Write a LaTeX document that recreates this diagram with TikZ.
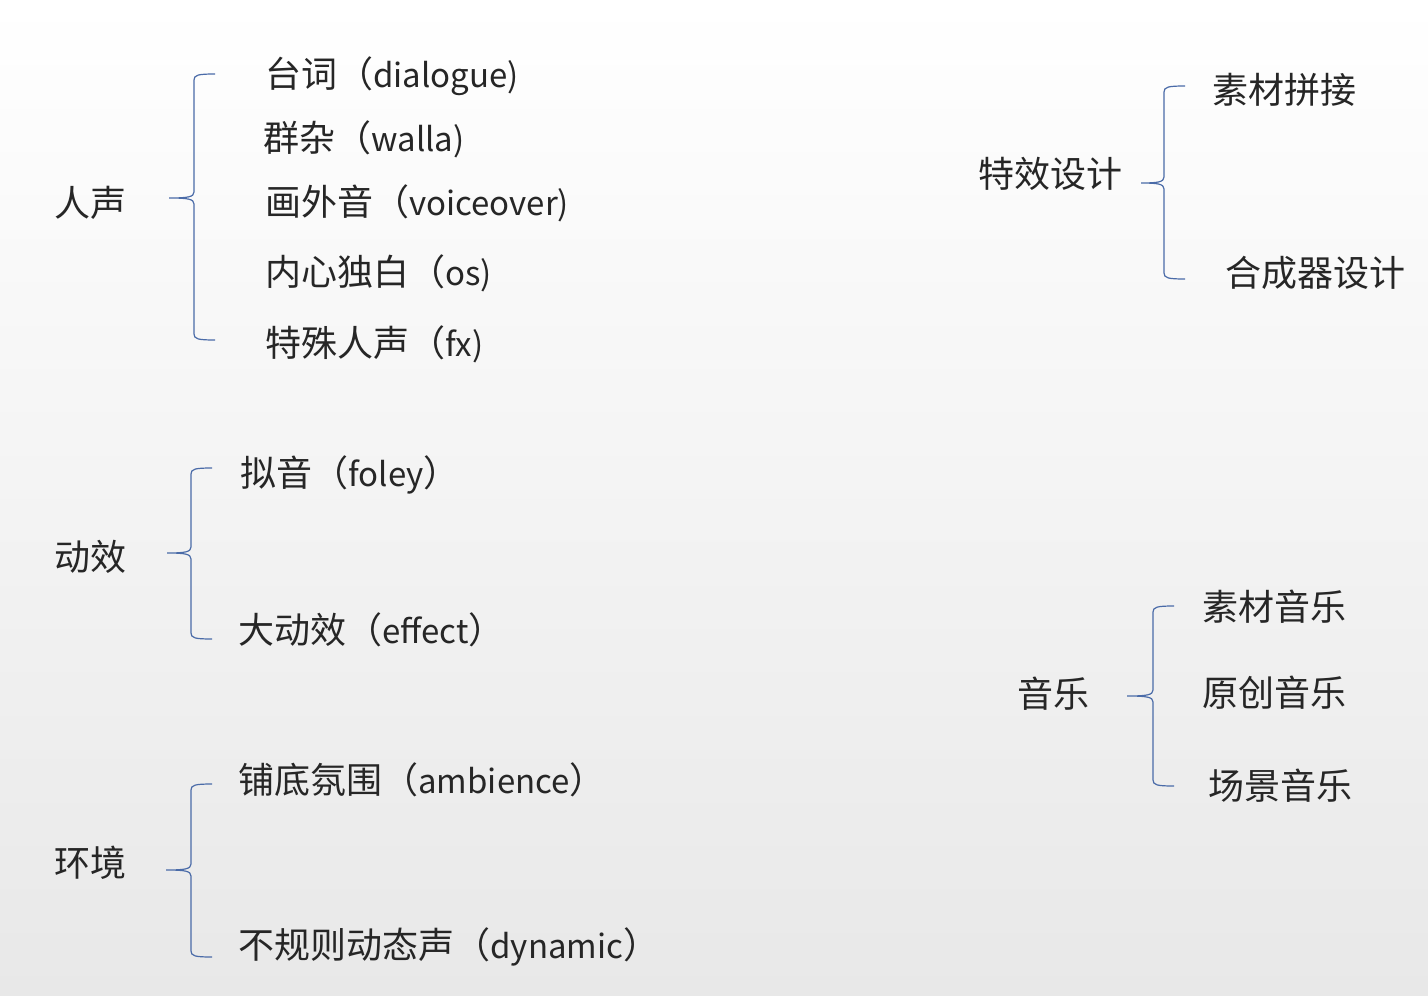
\documentclass[tikz,border=0pt]{standalone}
\usepackage{fontspec}
\setmainfont{Noto Sans CJK SC}
\newcommand{\lt}[1]{{\fontsize{16.5}{18}\selectfont #1}}
\begin{document}
\begin{tikzpicture}[x=0.5pt,y=-0.5pt,
  lbl/.style={anchor=west,inner sep=0pt,font=\fontsize{18}{20}\selectfont,text=black!85},
  brc/.style={draw=brcol,line width=0.6pt}]
\definecolor{brcol}{HTML}{4A6BA8}
\shade[top color=white,bottom color=black!9,shading angle=0] (0,0) rectangle (1428,995);
\useasboundingbox (0,0) rectangle (1428,995);
% left column
\node[lbl] (rs) at (54,203) {人声};
\node[lbl] (a1) at (265,76) {台词（\lt{dialogue)}};
\node[lbl] (a2) at (263,139) {群杂（\lt{walla)}};
\node[lbl] (a3) at (265,203) {画外音（\lt{voiceover)}};
\node[lbl] (a4) at (265,273) {内心独白（\lt{os)}};
\node[lbl] (a5) at (265,344) {特殊人声（\lt{fx)}};
\node[lbl] (dx) at (54,557) {动效};
\node[lbl] (b1) at (240,475) {拟音（\lt{foley}）};
\node[lbl] (b2) at (238,630) {大动效（\lt{effect}）};
\node[lbl] (hj) at (54,863) {环境};
\node[lbl] (c1) at (238,780) {铺底氛围（\lt{ambience}）};
\node[lbl] (c2) at (238,947) {不规则动态声（\lt{dynamic}）};
% right column
\node[lbl] (tx) at (978,174) {特效设计};
\node[lbl] (d1) at (1212,90) {素材拼接};
\node[lbl] (d2) at (1225,273) {合成器设计};
\node[lbl] (yy) at (1017,694) {音乐};
\node[lbl] (e1) at (1202,607) {素材音乐};
\node[lbl] (e2) at (1202,693) {原创音乐};
\node[lbl] (e3) at (1208,786) {场景音乐};
% braces: (x end, x vertical, x cusp, y top, y mid, y bottom)
\newcommand{\mybrc}[6]{%
  \draw[brc] (#1,#4) .. controls (#2+4,#4) and (#2,#4+1) .. (#2,#4+6)
    -- (#2,#5-6) .. controls (#2,#5-1) and (#2-6,#5) .. (#3,#5)
    .. controls (#2-6,#5) and (#2,#5+1) .. (#2,#5+6)
    -- (#2,#6-6) .. controls (#2,#6-1) and (#2+4,#6) .. (#1,#6);}
\mybrc{215}{194}{169}{74}{198}{340}
\mybrc{212}{191}{167}{468}{553}{639}
\mybrc{212}{191}{166}{784}{870}{957}
\mybrc{1185}{1164}{1141}{86}{183}{279}
\mybrc{1174}{1153}{1127}{606}{696}{786}
\end{tikzpicture}
\end{document}
